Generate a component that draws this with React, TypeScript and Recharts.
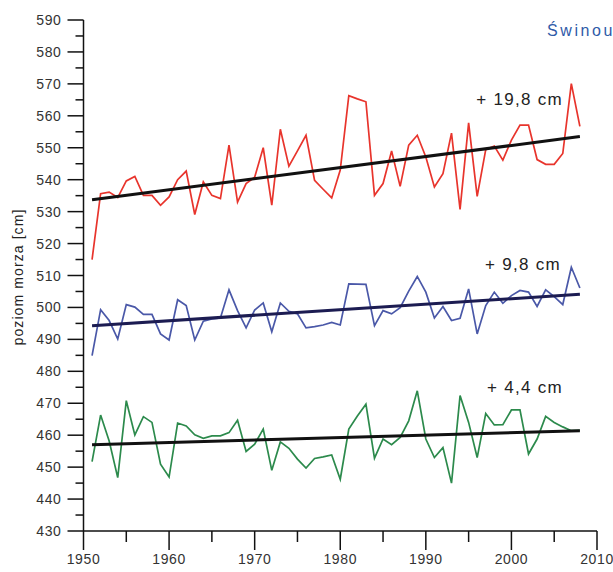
import React from 'react';
import { LineChart, Line, XAxis, YAxis } from 'recharts';

const years: number[] = [];
for (let y = 1951; y <= 2008; y++) years.push(y);

const redValues = [
  515, 535.6, 536.1, 534.4, 539.6, 541, 535.1, 535.1, 532, 534.6,
  540, 542.7, 529.1, 539.3, 535.1, 534.1, 550.8, 533, 538.8, 540.8,
  550, 532, 555.8, 544.2, 549, 553.9, 539.8, 537, 534.3, 543,
  566.3, 565.3, 564.4, 535.1, 538.8, 549, 537.9, 550.8, 553.9, 547.1,
  537.7, 541.9, 554.6, 530.7, 557.8, 534.8, 549.4, 550.5, 546.1, 552.4,
  557.1, 557.1, 546.3, 544.8, 544.8, 548.2, 570.1, 556.7,
];

const blueValues = [
  484.9, 499.3, 495.9, 490.1, 500.9, 500.1, 497.8, 497.8, 491.7, 489.8,
  502.4, 500.6, 489.8, 495.7, 496.4, 496.7, 505.5, 499, 493.6, 499.2,
  501.4, 492.4, 501.4, 498.8, 498, 493.6, 494, 494.5, 495.3, 494.5,
  507.4, 507.3, 507.2, 494.3, 499, 498, 499.9, 505.1, 509.7, 504.8,
  496.7, 500.3, 495.9, 496.6, 505.8, 491.7, 500.6, 504.8, 501.3, 503.7,
  505.3, 504.8, 500.3, 505.5, 503.4, 500.9, 512.6, 506.1,
];

const greenValues = [
  451.7, 466.3, 458.2, 446.7, 470.8, 460.1, 465.8, 464, 450.9, 446.9,
  463.8, 462.9, 460.1, 459, 459.8, 459.8, 460.8, 464.7, 454.9, 457.2,
  461.9, 449, 457.9, 455.9, 452.5, 449.7, 452.7, 453.2, 453.8, 446.2,
  461.9, 466, 469.7, 452.8, 458.8, 457, 459.3, 464.5, 473.9, 458.8,
  453, 456.1, 445, 472.4, 464, 453, 466.8, 463.2, 463.3, 467.9,
  467.9, 454.1, 458.8, 465.9, 464, 462.6, 461.4, 461.5,
];

const redTrend = [533.7, 553.5];
const blueTrend = [494.3, 504.1];
const greenTrend = [457.0, 461.4];

const trendLabels = ['+ 19,8 cm', '+ 9,8 cm', '+ 4,4 cm'];
const stationName = 'Świnoujście';
const yAxisTitle = 'poziom morza [cm]';

const xTicks = [1950, 1955, 1960, 1965, 1970, 1975, 1980, 1985, 1990, 1995, 2000, 2005, 2010];
const yTicks: number[] = [];
for (let v = 430; v <= 590; v += 5) yTicks.push(v);

const last = years.length - 1;
const data = years.map((year, i) => ({
  year,
  red: redValues[i],
  blue: blueValues[i],
  green: greenValues[i],
  redTrend: i === 0 ? redTrend[0] : i === last ? redTrend[1] : null,
  blueTrend: i === 0 ? blueTrend[0] : i === last ? blueTrend[1] : null,
  greenTrend: i === 0 ? greenTrend[0] : i === last ? greenTrend[1] : null,
}));

const FONT = '"Liberation Sans", Arial, Helvetica, sans-serif';

const YTick = (props: any) => {
  const { x, y, payload } = props;
  const major = payload.value % 10 === 0;
  return (
    <g>
      <line x1={x - (major ? 16 : 8)} x2={x} y1={y} y2={y} stroke="#111" strokeWidth={1.5} />
      {major && (
        <text x={x - 22} y={y} dy="0.36em" textAnchor="end" fontSize={14} fill="#333"
          fontFamily={FONT} letterSpacing={0.6}>
          {payload.value}
        </text>
      )}
    </g>
  );
};

const XTick = (props: any) => {
  const { x, y, payload } = props;
  const major = payload.value % 10 === 0;
  return (
    <g>
      <line x1={x} x2={x} y1={y} y2={y + (major ? 19 : 11)} stroke="#111" strokeWidth={1.5} />
      {major && (
        <text x={x} y={y + 33} textAnchor="middle" fontSize={14} fill="#333"
          fontFamily={FONT} letterSpacing={0.6}>
          {payload.value}
        </text>
      )}
    </g>
  );
};

const labelStyle: React.CSSProperties = {
  position: 'absolute',
  fontFamily: FONT,
  fontSize: 17,
  color: '#222',
  letterSpacing: 1.3,
  whiteSpace: 'nowrap',
  lineHeight: '20px',
};

export default function App() {
  return (
    <div style={{ position: 'absolute', left: 0, top: 0, width: 613, height: 572, overflow: 'hidden', background: '#fff' }}>
      <LineChart width={613} height={572} data={data} margin={{ top: 20, right: 16, bottom: 0, left: 0 }}>
        <XAxis
          dataKey="year"
          type="number"
          domain={[1950, 2010]}
          ticks={xTicks}
          height={41}
          tickSize={0}
          tickMargin={0}
          tickLine={false}
          axisLine={{ stroke: '#111', strokeWidth: 1.5 }}
          tick={<XTick />}
          interval={0}
        />
        <YAxis
          type="number"
          domain={[430, 590]}
          ticks={yTicks}
          width={83.5}
          tickSize={0}
          tickMargin={0}
          tickLine={false}
          axisLine={{ stroke: '#111', strokeWidth: 1.5 }}
          tick={<YTick />}
          interval={0}
          allowDataOverflow
        />
        <Line dataKey="red" stroke="#e8342c" strokeWidth={1.7} dot={false} isAnimationActive={false} />
        <Line dataKey="blue" stroke="#4a58a8" strokeWidth={1.7} dot={false} isAnimationActive={false} />
        <Line dataKey="green" stroke="#2c8a4c" strokeWidth={1.7} dot={false} isAnimationActive={false} />
        <Line dataKey="redTrend" stroke="#111" strokeWidth={3} dot={false} connectNulls isAnimationActive={false} />
        <Line dataKey="blueTrend" stroke="#1c1c52" strokeWidth={3} dot={false} connectNulls isAnimationActive={false} />
        <Line dataKey="greenTrend" stroke="#111" strokeWidth={3} dot={false} connectNulls isAnimationActive={false} />
      </LineChart>
      <div style={{
        position: 'absolute', left: 10, top: 277, width: 0, height: 0,
      }}>
        <div style={{
          position: 'absolute', left: 0, top: 0, transform: 'translate(-50%, -50%) rotate(-90deg)',
          fontFamily: FONT, fontSize: 14, color: '#222', whiteSpace: 'nowrap', letterSpacing: 1.1, lineHeight: '16px',
          marginLeft: 8,
        }}>{yAxisTitle}</div>
      </div>
      <div style={{ ...labelStyle, right: 50, top: 90 }}>{trendLabels[0]}</div>
      <div style={{ ...labelStyle, right: 52, top: 255 }}>{trendLabels[1]}</div>
      <div style={{ ...labelStyle, right: 50, top: 378 }}>{trendLabels[2]}</div>
      <div style={{
        position: 'absolute', left: 547, top: 21, fontFamily: FONT, fontSize: 16, color: '#2f5aa8',
        letterSpacing: 2.6, whiteSpace: 'nowrap', lineHeight: '20px',
      }}>{stationName}</div>
    </div>
  );
}
